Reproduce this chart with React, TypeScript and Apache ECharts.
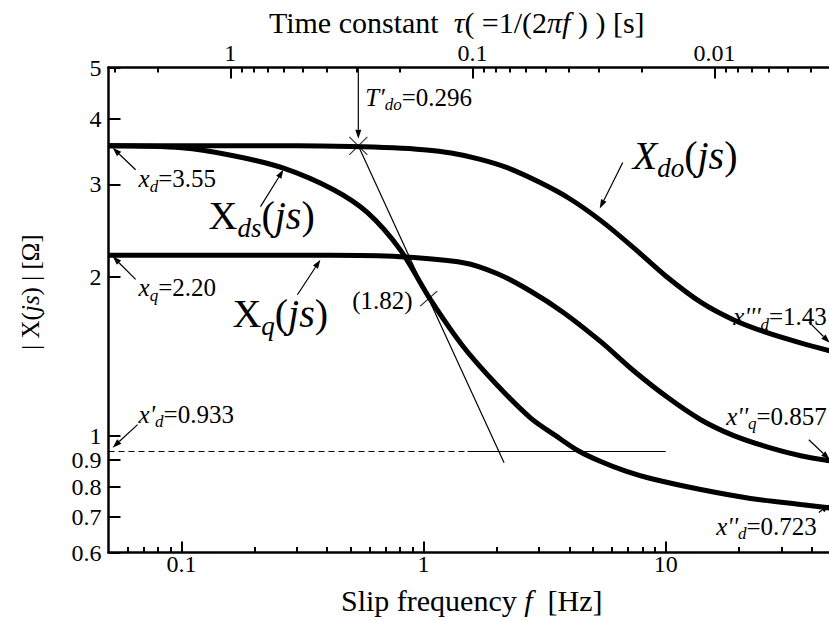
import React, { useEffect, useRef } from 'react';
import * as echarts from 'echarts';

const SERIF = 'Liberation Serif, serif';

// ---- data ----
// X_do(js)
const doFreq = [0.05, 0.1, 0.2, 0.3, 0.5, 0.75, 1.0, 1.3, 1.7, 2.2, 3.0, 4.0, 5.4, 7.4, 10, 14, 19, 26, 36, 50];
const doVal = [3.55, 3.55, 3.55, 3.55, 3.54, 3.52, 3.49, 3.44, 3.35, 3.23, 3.03, 2.82, 2.56, 2.27, 2.01, 1.79, 1.66, 1.57, 1.5, 1.44];
// X_ds(js)
const dsFreq = [0.05, 0.1, 0.164, 0.264, 0.425, 0.587, 0.803, 1.07, 1.46, 2.02, 2.77, 3.51, 4.37, 5.39, 6.84, 8.67, 13.95, 22.4, 36.1, 50];
const dsVal = [3.55, 3.52, 3.4, 3.22, 2.93, 2.65, 2.25, 1.81, 1.475, 1.245, 1.08, 1.0, 0.935, 0.893, 0.856, 0.829, 0.79, 0.76, 0.74, 0.727];
// X_q(js)
const qFreq = [0.05, 0.19, 0.41, 0.8, 1.46, 2.02, 2.77, 3.79, 5.39, 7.37, 10.2, 13.95, 19.1, 26.4, 36.1, 50];
const qVal = [2.2, 2.2, 2.2, 2.186, 2.13, 2.03, 1.88, 1.712, 1.508, 1.328, 1.181, 1.072, 1.0, 0.951, 0.916, 0.893];
// x'_d reference level
const xdpLevel = 0.933;
const xdpDashFreq = [0.05, 1.52];
const xdpSolidFreq = [1.52, 10];
// tangent line from T'do point
const tanFreq = [0.5377, 2.15];
const tanVal = [3.55, 0.888];
// marked points
const tdoPoint = [0.5377, 3.55];
const crossPoint = [1.05, 1.82];

// ---- axes ----
const fMin = 0.05;
const fMax = 50;
const tauMin = 1 / (2 * Math.PI * fMax);
const tauMax = 1 / (2 * Math.PI * fMin);
const fMajor = [0.1, 1, 10];
const fMinor = [0.06, 0.07, 0.08, 0.09, 0.2, 0.3, 0.4, 0.5, 0.6, 0.7, 0.8, 0.9, 2, 3, 4, 5, 6, 7, 8, 9, 20, 30, 40];
const tauMajor = [1, 0.1, 0.01];
const tauMinor = [3, 2, 0.9, 0.8, 0.7, 0.6, 0.5, 0.4, 0.3, 0.2, 0.09, 0.08, 0.07, 0.06, 0.05, 0.04, 0.03, 0.02, 0.009, 0.008, 0.007, 0.006, 0.005, 0.004];
const yTicks = [0.6, 0.7, 0.8, 0.9, 1, 2, 3, 4, 5];
const yMin = 0.6;
const yMax = 5;

const fmt = (v: number) => String(parseFloat(Number(v).toPrecision(6)));

const LABEL_SIZE = 24;
const TITLE_SIZE = 30;
const axisLineStyle = { color: '#000', width: 2.5 };
const tickLine = { color: '#000', width: 2 };
const labelStyle = { color: '#000', fontFamily: SERIF, fontSize: LABEL_SIZE };
const nameStyle = (size: number, extra: any = {}) => ({
  color: '#000',
  fontFamily: SERIF,
  fontSize: size,
  rich: { i: { color: '#000', fontFamily: SERIF, fontSize: size, fontStyle: 'italic' } },
  ...extra,
});

const pairs = (f: number[], v: number[]) => f.map((x, i) => [x, v[i]]);

const curve = (name: string, f: number[], v: number[]) => ({
  name,
  type: 'line',
  xAxisIndex: 0,
  yAxisIndex: 0,
  data: pairs(f, v),
  showSymbol: false,
  symbol: 'none',
  smooth: 0.3,
  lineStyle: { color: '#000', width: 5 },
  silent: true,
  z: 3,
});

const thin = (name: string, data: number[][], width: number, type: any = 'solid') => ({
  name,
  type: 'line',
  xAxisIndex: 0,
  yAxisIndex: 0,
  data,
  showSymbol: false,
  symbol: 'none',
  lineStyle: { color: '#000', width, type },
  silent: true,
  z: 2,
});

const option: any = {
  animation: false,
  backgroundColor: '#fff',
  grid: { left: 108.5, right: -6, top: 67.5, bottom: 68.5, containLabel: false, outerBoundsMode: 'none' },
  xAxis: [
    {
      type: 'log',
      position: 'bottom',
      min: fMin,
      max: fMax,
      axisLine: { show: true, onZero: false, lineStyle: axisLineStyle },
      axisTick: { show: true, inside: true, length: 11, lineStyle: tickLine, customValues: fMajor },
      axisLabel: { show: true, customValues: fMajor, formatter: fmt, margin: -1, ...labelStyle },
      splitLine: { show: false },
      name: 'Slip frequency {i|f}  [Hz]',
      nameLocation: 'middle',
      nameGap: 33,
      nameMoveOverlap: false,
      nameTextStyle: nameStyle(TITLE_SIZE),
    },
    {
      type: 'log',
      position: 'bottom',
      min: fMin,
      max: fMax,
      axisLine: { show: false },
      axisTick: { show: true, inside: true, length: 5.5, lineStyle: tickLine, customValues: fMinor },
      axisLabel: { show: false },
      splitLine: { show: false },
    },
    {
      type: 'log',
      position: 'top',
      inverse: true,
      min: tauMin,
      max: tauMax,
      axisLine: { show: true, onZero: false, lineStyle: axisLineStyle },
      axisTick: { show: true, inside: true, length: 11, lineStyle: tickLine, customValues: tauMajor },
      axisLabel: { show: true, customValues: tauMajor, formatter: fmt, margin: 3, ...labelStyle },
      splitLine: { show: false },
      name: 'Time constant  {i|τ}( =1/(2{i|πf} ) ) [s]',
      nameLocation: 'middle',
      nameGap: 30,
      nameMoveOverlap: false,
      nameTextStyle: nameStyle(TITLE_SIZE, { padding: [0, 30, 0, 0] }),
    },
    {
      type: 'log',
      position: 'top',
      inverse: true,
      min: tauMin,
      max: tauMax,
      axisLine: { show: false },
      axisTick: { show: true, inside: true, length: 5, lineStyle: tickLine, customValues: tauMinor },
      axisLabel: { show: false },
      splitLine: { show: false },
    },
  ],
  yAxis: [
    {
      type: 'log',
      min: yMin,
      max: yMax,
      axisLine: { show: true, onZero: false, lineStyle: axisLineStyle },
      axisTick: { show: true, inside: true, length: 12, lineStyle: tickLine, customValues: yTicks },
      axisLabel: { show: true, customValues: yTicks, formatter: fmt, margin: 7, ...labelStyle },
      splitLine: { show: false },
      name: '| X({i|js}) | [Ω]',
      nameLocation: 'middle',
      nameRotate: 90,
      nameGap: 66,
      nameMoveOverlap: false,
      nameTextStyle: nameStyle(25, { padding: [0, 0, 0, 36] }),
    },
  ],
  series: [
    thin('xdp-dash', xdpDashFreq.map((f) => [f, xdpLevel]), 1, [6, 4]),
    thin('xdp-solid', xdpSolidFreq.map((f) => [f, xdpLevel]), 1),
    thin('tangent', pairs(tanFreq, tanVal), 1.2),
    curve('Xdo', doFreq, doVal),
    curve('Xds', dsFreq, dsVal),
    curve('Xq', qFreq, qVal),
    {
      type: 'scatter',
      xAxisIndex: 0,
      yAxisIndex: 0,
      data: [tdoPoint],
      symbol: 'path://M0,0L10,10M10,0L0,10',
      symbolSize: 18,
      itemStyle: { color: 'none', borderColor: '#000', borderWidth: 1.2 },
      silent: true,
      z: 5,
    },
    {
      type: 'scatter',
      xAxisIndex: 0,
      yAxisIndex: 0,
      data: [crossPoint],
      symbol: 'path://M0,12L14,0',
      symbolSize: [17, 15],
      itemStyle: { color: 'none', borderColor: '#000', borderWidth: 1.2 },
      silent: true,
      z: 5,
    },
  ],
};

// ---- annotation helpers ----
let measureCtx: CanvasRenderingContext2D | null = null;
function measure(t: string, s: number, i?: boolean) {
  if (!measureCtx) measureCtx = document.createElement('canvas').getContext('2d');
  if (!measureCtx) return t.length * s * 0.5;
  measureCtx.font = `${i ? 'italic ' : ''}${s}px "Liberation Serif", serif`;
  return measureCtx.measureText(t).width;
}

type Part = { t: string; s: number; i?: boolean; dy?: number; dx?: number };

function richText(x0: number, base: number, parts: Part[], alignRight = false) {
  const xs: number[] = [];
  let x = 0;
  for (const p of parts) {
    x += p.dx || 0;
    xs.push(x);
    x += measure(p.t, p.s, p.i);
  }
  const total = x;
  const start = alignRight ? x0 - total : x0;
  return parts.map((p, k) => ({
    type: 'text',
    silent: true,
    z: 10,
    x: start + xs[k],
    y: base + (p.dy || 0) - 0.34 * p.s,
    style: {
      text: p.t,
      fill: '#000',
      fontSize: p.s,
      fontFamily: SERIF,
      fontStyle: p.i ? 'italic' : 'normal',
      align: 'left',
      verticalAlign: 'middle',
      textAlign: 'left',
      textVerticalAlign: 'middle',
    },
  }));
}

function arrow(x1: number, y1: number, x2: number, y2: number) {
  const dx = x2 - x1;
  const dy = y2 - y1;
  const L = Math.hypot(dx, dy) || 1;
  const ux = dx / L;
  const uy = dy / L;
  const hl = 9;
  const hw = 3;
  const bx = x2 - ux * hl;
  const by = y2 - uy * hl;
  return [
    { type: 'line', silent: true, z: 10, shape: { x1, y1, x2: bx, y2: by }, style: { stroke: '#000', lineWidth: 1.2 } },
    {
      type: 'polygon',
      silent: true,
      z: 10,
      shape: { points: [[x2, y2], [bx - uy * hw, by + ux * hw], [bx + uy * hw, by - ux * hw]] },
      style: { fill: '#000' },
    },
  ];
}

const S = 25; // small label size
const s = 17; // subscript size
const B = 40; // big label size
const b = 27; // big subscript size

const small = (main: string, primes: string, sub: string, value: string): Part[] => [
  { t: main + primes, s: S, i: true },
  { t: sub, s, i: true, dy: 5 },
  { t: value, s: S },
];
const big = (xItalic: boolean, sub: string): Part[] => [
  { t: 'X', s: B, i: xItalic },
  { t: sub, s: b, i: true, dy: 8 },
  { t: '(', s: B },
  { t: 'js', s: B, i: true },
  { t: ')', s: B },
];

export default function App() {
  const ref = useRef<HTMLDivElement>(null);
  useEffect(() => {
    if (!ref.current) return;
    const chart = echarts.init(ref.current, null, { renderer: 'svg' });
    chart.setOption(option);
    const P = (f: number, v: number) => chart.convertToPixel({ xAxisIndex: 0, yAxisIndex: 0 }, [f, v]) as number[];

    const els: any[] = [];
    // T'do arrow from top axis
    const tdoTip = P(0.5377, 3.66);
    const tdoTail = P(0.5377, yMax);
    els.push(...arrow(tdoTail[0], tdoTail[1], tdoTip[0], tdoTip[1]));
    els.push(
      ...richText(tdoTip[0] + 7, tdoTail[1] + 38, [
        { t: 'T\u2032', s: S, i: true },
        { t: 'do', s, i: true, dy: 5 },
        { t: '=0.296', s: S },
      ])
    );
    // x_d
    const xd = P(0.052, 3.52);
    els.push(...arrow(xd[0] + 23, xd[1] + 22, xd[0], xd[1]));
    els.push(...richText(xd[0] + 26, xd[1] + 39, small('x', '', 'd', '=3.55')));
    // x_q
    const xq = P(0.052, 2.19);
    els.push(...arrow(xq[0] + 23, xq[1] + 23, xq[0], xq[1]));
    els.push(...richText(xq[0] + 26, xq[1] + 40, small('x', '', 'q', '=2.20')));
    // x'_d
    const xdp = P(0.052, 0.949);
    els.push(...arrow(xdp[0] + 25, xdp[1] - 23, xdp[0], xdp[1]));
    els.push(...richText(xdp[0] + 26, xdp[1] - 25, small('x', "'", 'd', '=0.933')));
    // X_ds(js)
    const xds = P(0.264, 3.2);
    els.push(...arrow(xds[0] - 23, xds[1] + 37, xds[0], xds[1]));
    els.push(...richText(xds[0] - 75, xds[1] + 60, big(false, 'ds')));
    // X_q(js)
    const xqj = P(0.375, 2.158);
    els.push(...arrow(xqj[0] - 23, xqj[1] + 35, xqj[0], xqj[1]));
    els.push(...richText(xqj[0] - 88, xqj[1] + 67, big(false, 'q')));
    // X_do(js)
    const xdo = P(5.34, 2.7);
    els.push(...arrow(xdo[0] + 23, xdo[1] - 46, xdo[0], xdo[1]));
    els.push(...richText(xdo[0] + 33, xdo[1] - 39, big(true, 'do')));
    // (1.82)
    const cp = P(crossPoint[0], crossPoint[1]);
    els.push(...richText(cp[0] - 16, cp[1] + 10, [{ t: '(1.82)', s: S }], true));
    // x'''_d
    const x3 = P(47.6, 1.5);
    els.push(...arrow(x3[0] - 21, x3[1] - 21, x3[0], x3[1]));
    els.push(...richText(x3[0] - 3, x3[1] - 18, small('x', "'''", 'd', '=1.43'), true));
    // x''_q
    const x2q = P(47.6, 0.9);
    els.push(...arrow(x2q[0] - 21, x2q[1] - 20, x2q[0], x2q[1]));
    els.push(...richText(x2q[0] - 3, x2q[1] - 35, small('x', "''", 'q', '=0.857'), true));
    // x''_d
    const x2d = P(47.6, 0.74);
    els.push(...arrow(x2d[0] - 11, x2d[1] + 8, x2d[0], x2d[1]));
    els.push(...richText(x2d[0] - 13, x2d[1] + 30, small('x', "''", 'd', '=0.723'), true));

    chart.setOption({ graphic: { elements: els } });
    return () => chart.dispose();
  }, []);
  return (
    <div
      ref={ref}
      style={{ position: 'absolute', left: 0, top: 0, width: 829, height: 621, background: '#fff' }}
    />
  );
}
